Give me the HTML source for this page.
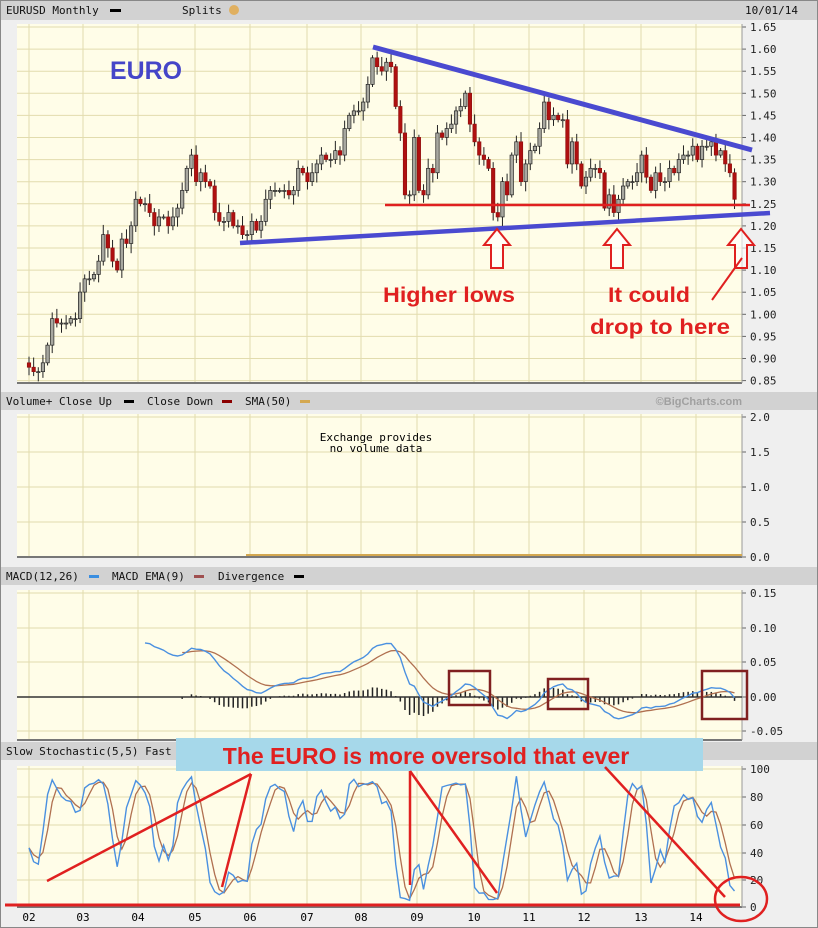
<!DOCTYPE html>
<html><head><meta charset="utf-8"><style>
html,body{margin:0;padding:0;background:#efefef;}
svg{display:block;font-family:"DejaVu Sans Mono","Liberation Mono",monospace;}
</style></head><body>
<svg id="s" width="818" height="928" viewBox="0 0 818 928" xmlns="http://www.w3.org/2000/svg">
<rect x="0" y="0" width="818" height="928" fill="#efefef"/>
<rect x="0.5" y="0.5" width="817" height="927" fill="none" stroke="#888"/>
<rect x="1" y="1" width="816" height="19" fill="#d2d2d2"/>
<rect x="1" y="392" width="816" height="18" fill="#d2d2d2"/>
<rect x="1" y="567" width="816" height="18" fill="#d2d2d2"/>
<rect x="1" y="742" width="816" height="18" fill="#d2d2d2"/>
<g font-size="11" fill="#111">
<text x="6" y="14">EURUSD Monthly</text><rect x="110" y="9" width="11" height="3" fill="#000"/>
<text x="182" y="14">Splits</text><circle cx="234" cy="10" r="5" fill="#e0b060"/>
<text x="798" y="14" text-anchor="end">10/01/14</text>
<text x="6" y="405">Volume+ Close Up</text><rect x="124" y="400" width="10" height="3" fill="#000"/>
<text x="147" y="405">Close Down</text><rect x="222" y="400" width="10" height="3" fill="#8b0000"/>
<text x="245" y="405">SMA(50)</text><rect x="300" y="400" width="10" height="3" fill="#d4a850"/>
<text x="742" y="405" text-anchor="end" font-weight="bold" fill="#a0a0a0" font-family="Liberation Sans,sans-serif">©BigCharts.com</text>
<text x="6" y="580">MACD(12,26)</text><rect x="89" y="575" width="10" height="3" fill="#3a8ee0"/>
<text x="112" y="580">MACD EMA(9)</text><rect x="194" y="575" width="10" height="3" fill="#a05050"/>
<text x="218" y="580">Divergence</text><rect x="294" y="575" width="10" height="3" fill="#000"/>
<text x="6" y="755">Slow Stochastic(5,5) Fast</text>
</g>
<g id="plots"></g>
</svg>
<script>
const S=document.getElementById('s'),P=document.getElementById('plots');
let h='';
const L=17,R=742;
const gx=[29,83,138,195,250,307,361,417,474,529,584,641,696];
function panel(top,bot,ys,labels){
 h+=`<rect x="${L}" y="${top}" width="${R-L}" height="${bot-top}" fill="#fffde8"/>`;
 gx.forEach(x=>h+=`<line x1="${x}" y1="${top}" x2="${x}" y2="${bot}" stroke="#e2dcae" stroke-width="1"/>`);
 ys.forEach((y,i)=>{h+=`<line x1="${L}" y1="${y}" x2="${R}" y2="${y}" stroke="#e2dcae"/>`;
  h+=`<line x1="${R}" y1="${y}" x2="${R+4}" y2="${y}" stroke="#666"/>`;
  h+=`<text x="${R+8}" y="${y+4}" font-size="11" fill="#222">${labels[i]}</text>`;});
 h+=`<line x1="${L}" y1="${bot}" x2="${R}" y2="${bot}" stroke="#777" stroke-width="2"/>`;
 h+=`<line x1="${R}" y1="${top}" x2="${R}" y2="${bot}" stroke="#999"/>`;
}
let ys=[],lb=[];for(let i=0;i<=16;i++){ys.push(27+i*22.1);lb.push((1.65-i*0.05).toFixed(2));}
panel(24,383,ys,lb);
panel(414,557,[417,452,487,522,557],['2.0','1.5','1.0','0.5','0.0']);
h+=`<line x1="246" y1="555" x2="${R}" y2="555" stroke="#d4a850" stroke-width="2"/>`;
h+=`<text x="376" y="441" font-size="11" text-anchor="middle">Exchange provides</text><text x="376" y="452" font-size="11" text-anchor="middle">no volume data</text>`;
panel(590,740,[593,628,662,697,731],['0.15','0.10','0.05','0.00','-0.05']);
panel(766,907,[769,797,825,853,880,907],['100','80','60','40','20','0']);
['02','03','04','05','06','07','08','09','10','11','12','13','14'].forEach((t,i)=>h+=`<text x="${gx[i]}" y="921" font-size="11" text-anchor="middle">${t}</text>`);
const C=[0.89,0.88,0.87,0.87,0.89,0.93,0.99,0.98,0.98,0.98,0.99,0.99,1.05,
1.08,1.08,1.09,1.12,1.18,1.15,1.12,1.10,1.17,1.16,1.20,1.26,
1.25,1.25,1.23,1.20,1.22,1.22,1.20,1.22,1.24,1.28,1.33,1.36,
1.30,1.32,1.30,1.29,1.23,1.21,1.21,1.23,1.20,1.20,1.18,1.18,
1.21,1.19,1.21,1.26,1.28,1.28,1.28,1.28,1.27,1.28,1.33,1.32,
1.30,1.32,1.34,1.36,1.35,1.35,1.37,1.36,1.42,1.45,1.46,1.46,
1.48,1.52,1.58,1.56,1.55,1.57,1.56,1.47,1.41,1.27,1.27,1.40,
1.28,1.27,1.33,1.32,1.41,1.40,1.42,1.43,1.46,1.47,1.50,1.43,
1.39,1.36,1.35,1.33,1.23,1.22,1.30,1.27,1.36,1.39,1.30,1.34,
1.37,1.38,1.42,1.48,1.44,1.45,1.44,1.44,1.34,1.39,1.34,1.29,
1.31,1.33,1.33,1.32,1.24,1.27,1.23,1.26,1.29,1.30,1.30,1.32,
1.36,1.31,1.28,1.32,1.30,1.30,1.33,1.32,1.35,1.36,1.36,1.38,
1.35,1.38,1.38,1.39,1.36,1.37,1.34,1.32,1.26];
const X=i=>29+(i-1)*55.7/12, Y=p=>49+(1.60-p)/0.05*22.1;
let H=[],Lo=[];
for(let i=1;i<C.length;i++){const o=C[i-1],c=C[i];const hi=Math.max(o,c)+0.006+((i*7)%5)*0.004,lo=Math.min(o,c)-0.006-((i*3)%5)*0.004;H[i]=hi;Lo[i]=lo;
 const x=X(i),up=c>=o,t=Y(Math.max(o,c)),b=Y(Math.min(o,c));
 h+=`<line x1="${x}" y1="${Y(hi)}" x2="${x}" y2="${Y(lo)}" stroke="#222"/>`;
 h+=`<rect x="${x-1.7}" y="${t}" width="3.4" height="${Math.max(1,b-t)}" fill="${up?'#a8a8a0':'#b01010'}" stroke="${up?'#222':'#901010'}" stroke-width="0.7"/>`;}
function ema(a,n){const k=2/(n+1);let r=[a[0]];for(let i=1;i<a.length;i++)r.push(a[i]*k+r[i-1]*(1-k));return r;}
const pre=Array(30).fill(0.89).concat(C);
const e12=ema(pre,12),e26=ema(pre,26);const m=e12.map((v,i)=>v-e26[i]);const sg=ema(m,9);
const MY=v=>697-v*690;
let pb='',pr='';
for(let i=1;i<C.length;i++){const j=i+30,x=X(i);
 if(i>=26){pb+=(pb?'L':'M')+x.toFixed(1)+' '+MY(m[j]).toFixed(1);}
 if(i>=34){pr+=(pr?'L':'M')+x.toFixed(1)+' '+MY(sg[j]).toFixed(1);
  const d=(m[j]-sg[j])*0.8; h+=`<line x1="${x}" y1="697" x2="${x}" y2="${MY(d)}" stroke="#222" stroke-width="1.5"/>`;}}
h+=`<line x1="${L}" y1="697" x2="${R}" y2="697" stroke="#333" stroke-width="1.5"/>`;
h+=`<path d="${pr}" fill="none" stroke="#b07050" stroke-width="1.3"/><path d="${pb}" fill="none" stroke="#4a90e0" stroke-width="1.4"/>`;
let k=[];for(let i=1;i<C.length;i++){let hh=-9,ll=9;for(let j=Math.max(1,i-4);j<=i;j++){hh=Math.max(hh,H[j]);ll=Math.min(ll,Lo[j]);}k[i]=(C[i]-ll)/(hh-ll)*100;}
let f=[],sl=[];for(let i=1;i<C.length;i++){let s=0,n=0;for(let j=Math.max(1,i-1);j<=i;j++){s+=k[j];n++;}f[i]=s/n;}
for(let i=1;i<C.length;i++){let s=0,n=0;for(let j=Math.max(1,i-2);j<=i;j++){s+=f[j];n++;}sl[i]=s/n;}
const SY=v=>907-v*1.38;let sb='',sr='';
for(let i=1;i<C.length;i++){sb+=(i>1?'L':'M')+X(i).toFixed(1)+' '+SY(f[i]).toFixed(1);sr+=(i>1?'L':'M')+X(i).toFixed(1)+' '+SY(sl[i]).toFixed(1);}
h+=`<path d="${sr}" fill="none" stroke="#b07050" stroke-width="1.3"/><path d="${sb}" fill="none" stroke="#4a90e0" stroke-width="1.4"/>`;
h+=`<text x="110" y="79" textLength="72" lengthAdjust="spacingAndGlyphs" font-family="Liberation Sans,sans-serif" font-weight="bold" font-size="25" fill="#4545c8">EURO</text>`;
h+=`<line x1="385" y1="205" x2="750" y2="205" stroke="#e02020" stroke-width="2.5"/>`;
h+=`<line x1="373" y1="47" x2="752" y2="150" stroke="#4a4ad0" stroke-width="5"/>`;
h+=`<line x1="240" y1="243" x2="770" y2="213" stroke="#4a4ad0" stroke-width="4.5"/>`;
[497,617,741].forEach(x=>h+=`<path d="M${x} 229 L${x+13} 245 L${x+6} 245 L${x+6} 268 L${x-6} 268 L${x-6} 245 L${x-13} 245 Z" fill="#fff" fill-opacity="0.6" stroke="#e02020" stroke-width="2"/>`);
h+=`<g font-family="Liberation Sans,sans-serif" font-weight="bold" font-size="21" fill="#e02020"><text x="383" y="302" textLength="132" lengthAdjust="spacingAndGlyphs">Higher lows</text><text x="608" y="302" textLength="82" lengthAdjust="spacingAndGlyphs">It could</text><text x="590" y="334" textLength="140" lengthAdjust="spacingAndGlyphs">drop to here</text></g>`;
h+=`<line x1="712" y1="300" x2="742" y2="258" stroke="#e02020" stroke-width="2"/>`;
h+=`<g fill="none" stroke="#802020" stroke-width="2.5"><rect x="449" y="671" width="41" height="34"/><rect x="548" y="679" width="40" height="30"/><rect x="702" y="671" width="45" height="48"/></g>`;
h+=`<rect x="176" y="738" width="527" height="33" fill="#a6d8ea"/>`;
h+=`<text x="426" y="764" text-anchor="middle" font-family="Liberation Sans,sans-serif" font-weight="bold" font-size="23" fill="#e02020">The EURO is more oversold that ever</text>`;
h+=`<g stroke="#e02020" stroke-width="2.5" fill="none"><line x1="47" y1="881" x2="251" y2="774"/><line x1="222" y1="887" x2="251" y2="774"/><line x1="410" y1="885" x2="410" y2="771"/><line x1="410" y1="771" x2="497" y2="893"/><line x1="605" y1="767" x2="725" y2="897"/><ellipse cx="741" cy="899" rx="26" ry="22"/><line x1="5" y1="905" x2="740" y2="905" stroke-width="3"/></g>`;
P.innerHTML=h;
</script>
</body></html>
